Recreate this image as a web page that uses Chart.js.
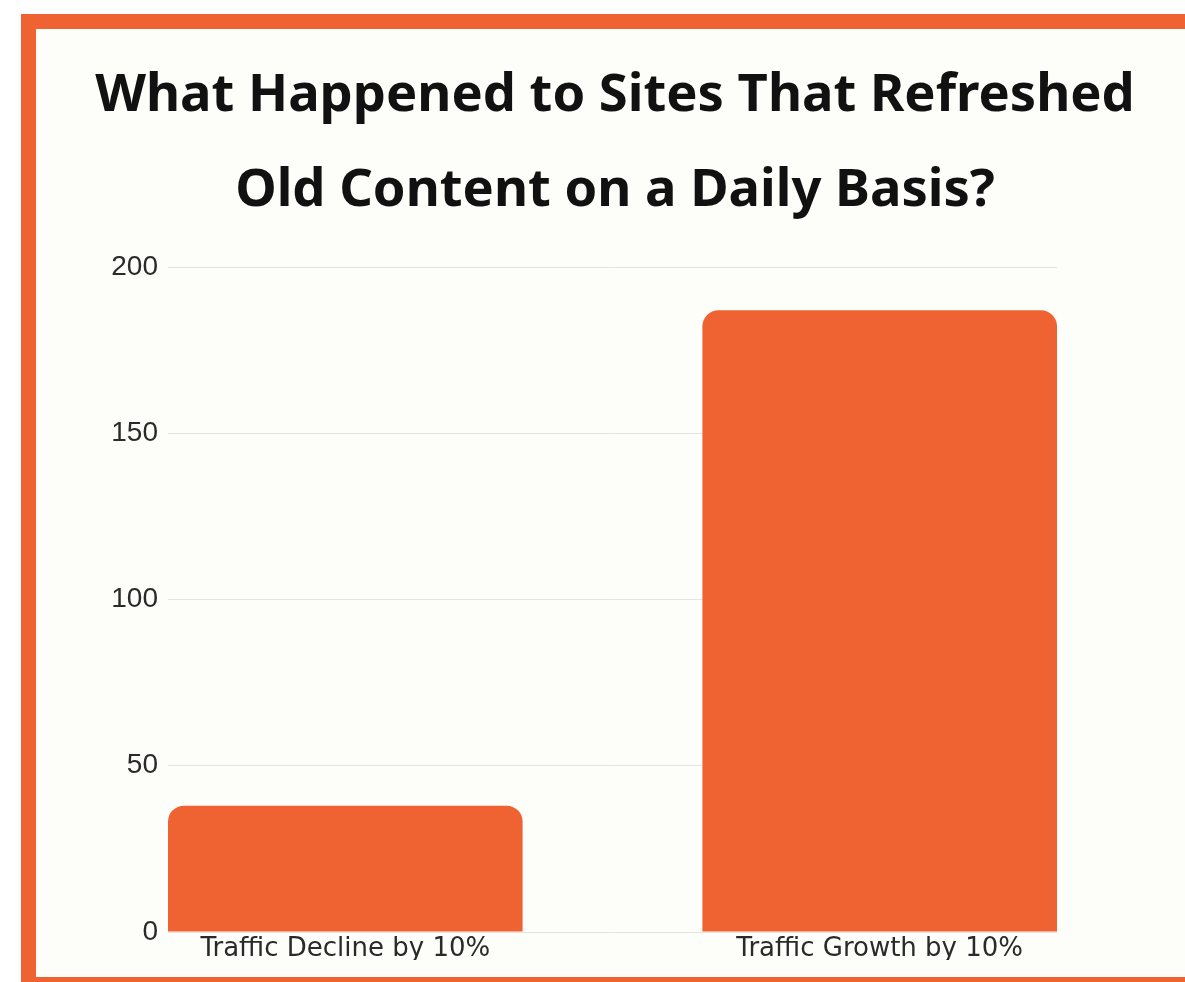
<!DOCTYPE html>
<html>
<head>
<meta charset="utf-8">
<script src="https://cdn.jsdelivr.net/npm/chart.js@4.4.1/dist/chart.umd.min.js"></script>
<style>
    html, body { margin: 0; padding: 0; background: #ffffff; }
    body { width: 1185px; height: 982px; position: relative; overflow: hidden; }
    /* orange frame, runs off the right edge */
    #frame {
        position: absolute; left: 21px; top: 14px;
        width: 1200px; height: 948px;
        border: 15px solid #ef6232;
        background: #fdfdfa;
    }
    #chart { position: absolute; left: 0; top: 0; }
</style>
</head>
<body>
<div id="frame"></div>
<canvas id="chart" width="1185" height="982"></canvas>
<script>
const categories = ["Traffic Decline by 10%", "Traffic Growth by 10%"];
const siteCounts = [38, 187];
const yTicks = [0, 50, 100, 150, 200];
const titleLines = ["What Happened to Sites That Refreshed", "Old Content on a Daily Basis?"];

const barColor = "#ef6333";
const barShare = 355 / 535; // bar width as a share of the spacing between bars

const canvas = document.getElementById("chart");

// title is centred on the frame, not on the plot area
const frameTitle = {
    id: "frameTitle",
    afterDraw(chart) {
        const ctx = chart.ctx;
        ctx.save();
        ctx.fillStyle = "#111111";
        ctx.font = "bold 52.5px 'Noto Sans', sans-serif";
        ctx.textAlign = "center";
        ctx.textBaseline = "alphabetic";
        titleLines.forEach((line, i) => {
            ctx.fillText(line, 615, 111 + i * 95);
        });
        ctx.restore();
    }
};

let currentChart = new Chart(canvas, {
    type: "bar",
    data: {
        labels: categories,
        datasets: [{
            label: "Sites",
            data: siteCounts,
            backgroundColor: barColor,
            borderRadius: { topLeft: 16, topRight: 16, bottomLeft: 0, bottomRight: 0 },
            borderSkipped: "start",
            categoryPercentage: 1,
            barPercentage: barShare
        }]
    },
    options: {
        responsive: false,
        animation: false,
        layout: { padding: { left: 68, right: 128, top: 267, bottom: 22 } },
        plugins: {
            legend: { display: false },
            tooltip: { enabled: false },
            title: { display: false }
        },
        scales: {
            x: {
                grid: { display: false, drawTicks: false },
                border: { display: false },
                ticks: {
                    color: "#2a2a2a",
                    padding: 2,
                    font: { family: "'DejaVu Sans', sans-serif", size: 26 }
                },
                // bars sit flush against both ends of the plot
                afterBuildTicks: (scale) => {
                    scale._startValue = -barShare / 2;
                    scale._valueRange = (categories.length - 1) + barShare;
                },
                afterFit: (scale) => { scale.height = 28; }
            },
            y: {
                min: 0,
                max: 200,
                afterBuildTicks: (scale) => {
                    scale.ticks = yTicks.map(v => ({ value: v }));
                },
                afterFit: (scale) => { scale.width = 100; },
                grid: { color: "#e3e3e0", lineWidth: 1, drawTicks: false },
                border: { display: false },
                ticks: {
                    color: "#2a2a2a",
                    padding: 10,
                    font: { family: "'Liberation Sans', sans-serif", size: 28 }
                }
            }
        }
    },
    plugins: [frameTitle]
});
</script>
</body>
</html>
